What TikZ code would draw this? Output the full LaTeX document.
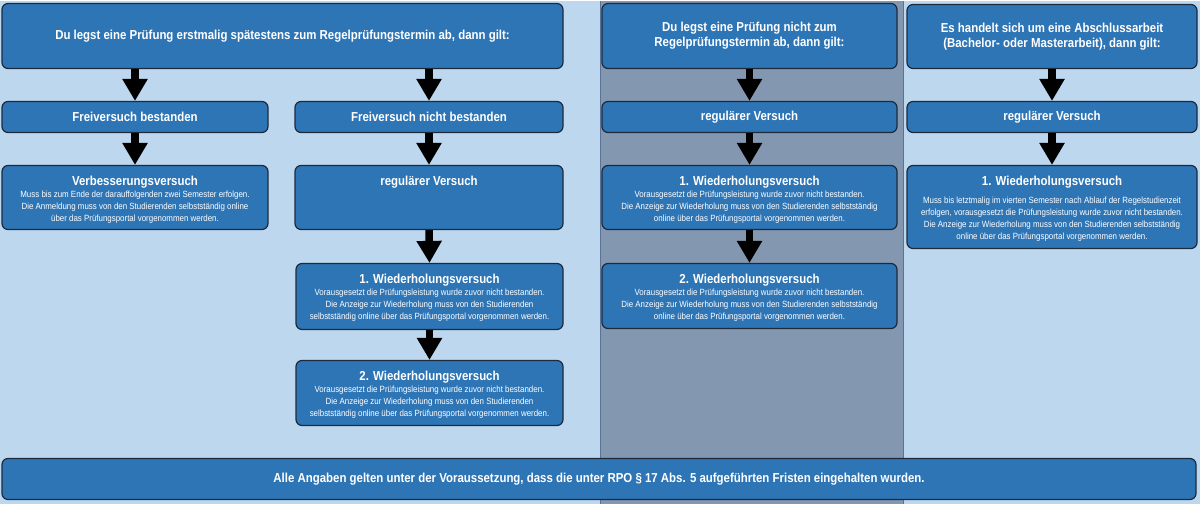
\documentclass[tikz,border=0pt]{standalone}
\usepackage{fontspec}
\setmainfont{Liberation Sans}[FakeStretch=0.88]
\usetikzlibrary{arrows.meta}
\definecolor{bgblue}{HTML}{BDD7EE}
\definecolor{graycol}{HTML}{8497B0}
\definecolor{boxblue}{HTML}{2E75B6}
\definecolor{boxline}{HTML}{1C2A3C}
\definecolor{sepline}{HTML}{5B7397}
\newcommand\hdfont{\fontsize{13}{15}\selectfont\bfseries}
\newcommand\smfont{\fontsize{9}{12}\selectfont}
\newcommand\btfont{\fontsize{13}{15}\selectfont\bfseries}
\begin{document}
\begin{tikzpicture}[x=1pt,y=-1pt,
  box/.style={draw=boxline, line width=1.2pt, fill=boxblue, rounded corners=6pt, inner sep=0pt, text=white},
  hd/.style={font=\hdfont, align=center},
  txt/.style={anchor=north, inner sep=0pt, text=white, font=\smfont, align=center},
  arr/.style={draw=black, line width=7.5pt, -{Triangle[width=24pt,length=22pt]}}
]
\fill[bgblue] (0,0) rectangle (1200,503);
\fill[graycol] (600,0) rectangle (903,503);
\draw[sepline, line width=1pt] (600,0) -- (600,503) (903,0) -- (903,503);
\useasboundingbox (0,0) rectangle (1200,503);

% column 1 and 2
\node[box, hd, minimum width=561pt, minimum height=65pt] (t1) at (282.5,35.5)
  {Du legst eine Prüfung erstmalig spätestens zum Regelprüfungstermin ab, dann gilt:};
\node[box, hd, minimum width=266pt, minimum height=31pt] (a1) at (135,116.5) {Freiversuch bestanden};
\node[box, hd, minimum width=268pt, minimum height=31pt] (a2) at (429,116.5) {Freiversuch nicht bestanden};
\node[box, minimum width=266pt, minimum height=64pt] (b1) at (135,197) {};
\node[txt] (b1t) at ([yshift=-11pt]b1.north)
  {{\hdfont Verbesserungsversuch}\\
   Muss bis zum Ende der darauffolgenden zwei Semester erfolgen.\\
   Die Anmeldung muss von den Studierenden selbstständig online\\
   über das Prüfungsportal vorgenommen werden.};
\node[box, minimum width=268pt, minimum height=64pt] (b2) at (429,197) {};
\node[txt] (b2t) at ([yshift=-11pt]b2.north) {{\hdfont regulärer Versuch}};
\node[box, minimum width=267pt, minimum height=66pt] (c2) at (429.5,296) {};
\node[txt] (c2t) at ([yshift=-11pt]c2.north)
  {{\hdfont 1. Wiederholungsversuch}\\
   Vorausgesetzt die Prüfungsleistung wurde zuvor nicht bestanden.\\
   Die Anzeige zur Wiederholung muss von den Studierenden\\
   selbstständig online über das Prüfungsportal vorgenommen werden.};
\node[box, minimum width=267pt, minimum height=65pt] (d2) at (429.5,392.5) {};
\node[txt] (d2t) at ([yshift=-11pt]d2.north)
  {{\hdfont 2. Wiederholungsversuch}\\
   Vorausgesetzt die Prüfungsleistung wurde zuvor nicht bestanden.\\
   Die Anzeige zur Wiederholung muss von den Studierenden\\
   selbstständig online über das Prüfungsportal vorgenommen werden.};

% column 3
\node[box, hd, minimum width=295pt, minimum height=65pt] (t3) at (749.5,35.5)
  {Du legst eine Prüfung nicht zum\\Regelprüfungstermin ab, dann gilt:};
\node[box, hd, minimum width=295pt, minimum height=31pt] (r3) at (749.5,116.5) {regulärer Versuch};
\node[box, minimum width=295pt, minimum height=64pt] (w31) at (749.5,197) {};
\node[txt] (w31t) at ([yshift=-11pt]w31.north)
  {{\hdfont 1. Wiederholungsversuch}\\
   Vorausgesetzt die Prüfungsleistung wurde zuvor nicht bestanden.\\
   Die Anzeige zur Wiederholung muss von den Studierenden selbstständig\\
   online über das Prüfungsportal vorgenommen werden.};
\node[box, minimum width=295pt, minimum height=65pt] (w32) at (749.5,295.5) {};
\node[txt] (w32t) at ([yshift=-11pt]w32.north)
  {{\hdfont 2. Wiederholungsversuch}\\
   Vorausgesetzt die Prüfungsleistung wurde zuvor nicht bestanden.\\
   Die Anzeige zur Wiederholung muss von den Studierenden selbstständig\\
   online über das Prüfungsportal vorgenommen werden.};

% column 4
\node[box, hd, minimum width=290pt, minimum height=64pt] (t4) at (1052,36)
  {Es handelt sich um eine Abschlussarbeit\\(Bachelor- oder Masterarbeit), dann gilt:};
\node[box, hd, minimum width=290pt, minimum height=31pt] (r4) at (1052,116.5) {regulärer Versuch};
\node[box, minimum width=290pt, minimum height=83pt] (w41) at (1052,206.5) {};
\node[txt] (w41t) at ([yshift=-11pt]w41.north)
  {{\hdfont 1. Wiederholungsversuch}\\[6pt]
   Muss bis letztmalig im vierten Semester nach Ablauf der Regelstudienzeit\\
   erfolgen, vorausgesetzt die Prüfungsleistung wurde zuvor nicht bestanden.\\
   Die Anzeige zur Wiederholung muss von den Studierenden selbstständig\\
   online über das Prüfungsportal vorgenommen werden.};

% bottom
\node[box, minimum width=1194pt, minimum height=41pt, font=\btfont] (bot) at (599,478.5)
  {Alle Angaben gelten unter der Voraussetzung, dass die unter RPO § 17 Abs. 5 aufgeführten Fristen eingehalten wurden.};

% arrows
\draw[arr] (a1.north |- t1.south) -- (a1.north);
\draw[arr] (a2.north |- t1.south) -- (a2.north);
\draw[arr] (a1.south) -- (b1.north);
\draw[arr] (a2.south) -- (b2.north);
\draw[arr] (b2.south) -- (c2.north);
\draw[arr] (c2.south) -- (d2.north);
\draw[arr] (t3.south) -- (r3.north);
\draw[arr] (r3.south) -- (w31.north);
\draw[arr] (w31.south) -- (w32.north);
\draw[arr] (t4.south) -- (r4.north);
\draw[arr] (r4.south) -- (w41.north);
\end{tikzpicture}
\end{document}
